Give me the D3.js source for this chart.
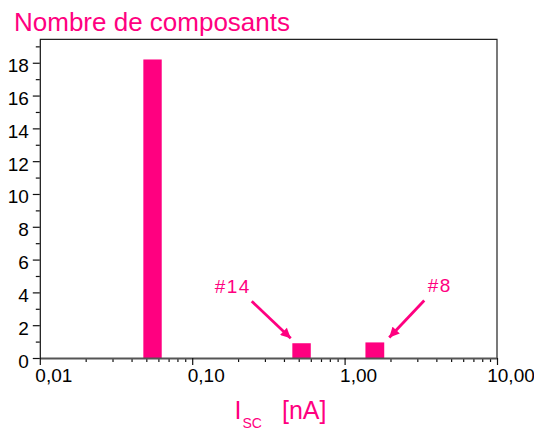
<!DOCTYPE html>
<html>
<head>
<meta charset="utf-8">
<script src="https://cdn.jsdelivr.net/npm/d3@7/dist/d3.min.js"></script>
<style>
  html, body { margin: 0; padding: 0; background: #fff; }
  svg { display: block; font-family: "Liberation Sans", Arial, sans-serif; }
</style>
</head>
<body>
<svg id="chart" width="534" height="430"></svg>
<script>
// ---- data ----
const binLow  = [0.0478, 0.454, 1.37];   // I_SC bin lower edge [nA]
const binHigh = [0.0631, 0.600, 1.82];   // I_SC bin upper edge [nA]
const counts  = [18.2, 0.9, 0.95];       // Nombre de composants
const xTickValues = [0.01, 0.1, 1, 10];
const xTickLabels = ["0,01", "0,10", "1,00", "10,00"];
const yTickValues = [0, 2, 4, 6, 8, 10, 12, 14, 16, 18];
const yMinorValues = [1, 3, 5, 7, 9, 11, 13, 15, 17, 19];
const annotLabels = ["#14", "#8"];
const annotBars = [1, 2];

const PINK = "#ff0080";
const FONT = "'Liberation Sans', Arial, sans-serif";
const svg = d3.select("#chart");
svg.append("rect").attr("width", 534).attr("height", 430).attr("fill", "#fff");

const x = d3.scaleLog().domain([0.01, 10]).range([39.8, 497]);
const y = d3.scaleLinear().domain([0, 19.43]).range([358, 39.3]);

// frame (top & right)
svg.append("path")
  .attr("d", `M${x(0.01)},${y.range()[1]}H${x(10)}V${y(0)}`)
  .attr("fill", "none").attr("stroke", "#222").attr("stroke-width", 1.2);

// bars
svg.append("g").selectAll("rect").data(counts).join("rect")
  .attr("x", (d, i) => x(binLow[i]))
  .attr("width", (d, i) => x(binHigh[i]) - x(binLow[i]))
  .attr("y", d => y(d))
  .attr("height", d => y(0) - y(d))
  .attr("fill", PINK);

// x minor ticks
const xMinor = [];
[0.01, 0.1, 1].forEach(dec => { for (let k = 2; k <= 9; k++) xMinor.push(dec * k); });
svg.append("g").attr("transform", `translate(0,${y(0)})`)
  .call(d3.axisBottom(x).tickValues(xMinor).tickSize(4).tickFormat(""))
  .call(g => g.select(".domain").remove())
  .call(g => g.selectAll("line").attr("stroke", "#111").attr("stroke-width", 1.2));

// x major axis
const xAxis = svg.append("g").attr("transform", `translate(0,${y(0)})`)
  .call(d3.axisBottom(x).tickValues(xTickValues).tickSize(7).tickSizeOuter(0)
    .tickFormat((d, i) => xTickLabels[i]));
xAxis.attr("font-family", FONT);
xAxis.select(".domain").attr("stroke", "#555").attr("stroke-width", 2);
xAxis.selectAll("line").attr("stroke", "#111").attr("stroke-width", 1.2);
xAxis.selectAll("text")
  .attr("font-size", 19).attr("fill", "#000")
  .attr("dx", 13.5).attr("y", 24).attr("dy", 0);

// y minor ticks
svg.append("g").attr("transform", `translate(${x(0.01)},0)`)
  .call(d3.axisLeft(y).tickValues(yMinorValues).tickSize(4).tickFormat(""))
  .call(g => g.select(".domain").remove())
  .call(g => g.selectAll("line").attr("stroke", "#111").attr("stroke-width", 1.2));

// y major axis
const yAxis = svg.append("g").attr("transform", `translate(${x(0.01)},0)`)
  .call(d3.axisLeft(y).tickValues(yTickValues).tickSize(7).tickSizeOuter(0));
yAxis.attr("font-family", FONT);
yAxis.select(".domain").attr("stroke", "#111").attr("stroke-width", 1.2);
yAxis.selectAll("line").attr("stroke", "#111").attr("stroke-width", 1.2);
yAxis.selectAll("text")
  .attr("font-size", 19).attr("fill", "#000")
  .attr("x", -11).attr("dy", 0).attr("y", 9);

// title
svg.append("text").attr("x", 14).attr("y", 31)
  .attr("font-size", 25.5).attr("fill", PINK)
  .attr("textLength", 276).attr("lengthAdjust", "spacingAndGlyphs")
  .text("Nombre de composants");

// x-axis title
const xt = svg.append("text").attr("x", 234.5).attr("y", 419).attr("fill", PINK).attr("font-size", 25);
xt.append("tspan").text("I");
xt.append("tspan").attr("font-size", 14).attr("dy", 9).attr("dx", 1).text("SC");
xt.append("tspan").attr("dy", -9).attr("x", 282).text("[nA]");

// annotations with arrows
svg.append("defs").append("marker")
  .attr("id", "ah").attr("viewBox", "0 0 10 10").attr("refX", 10).attr("refY", 5)
  .attr("markerWidth", 4).attr("markerHeight", 3.6).attr("orient", "auto")
  .attr("markerUnits", "strokeWidth")
  .append("path").attr("d", "M0,0L10,5L0,10z").attr("fill", PINK);

annotBars.forEach((bi, k) => {
  const left = k === 0;
  const tipX = left ? x(binLow[bi]) - 1.6 : x(binHigh[bi]) + 5;
  const tipY = y(counts[bi]) - 5;
  const sx = left ? tipX - 39 : tipX + 35;
  const sy = tipY - 37;
  svg.append("line")
    .attr("x1", sx).attr("y1", sy).attr("x2", tipX).attr("y2", tipY)
    .attr("stroke", PINK).attr("stroke-width", 2.8).attr("marker-end", "url(#ah)");
  svg.append("text")
    .attr("x", left ? sx - 37 : sx + 3.5).attr("y", sy - 8.5)
    .attr("font-size", 19).attr("fill", PINK).attr("letter-spacing", 1.5)
    .text(annotLabels[k]);
});
</script>
</body>
</html>
